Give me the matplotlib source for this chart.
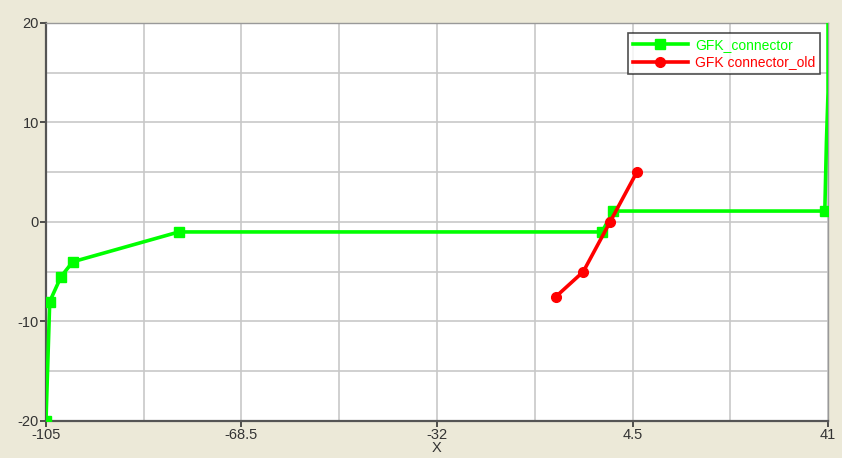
import matplotlib
matplotlib.use("Agg")
import matplotlib.pyplot as plt
import numpy as np

plt.rcParams['font.family'] = ['Liberation Sans', 'DejaVu Sans']
plt.rcParams['axes.unicode_minus'] = False

# GFK_connector profile
conn_x = [-105.0, -104.3, -102.2, -100.0, -80.2, -1.2, 0.9, 40.4, 40.7, 41.0, 41.0]
conn_y = [-20.0, -8.0, -5.5, -4.0, -1.0, -1.0, 1.1, 1.1, 8.0, 13.0, 20.0]

# GFK connector_old profile
old_x = [-9.8, -4.7, 0.3, 5.3]
old_y = [-7.5, -5.0, 0.0, 5.0]

x_ticks = [-105, -68.5, -32, 4.5, 41]
x_tick_labels = ["-105", "-68.5", "-32", "4.5", "41"]
y_ticks = [-20, -10, 0, 10, 20]

bg = "#ECE9D8"
fig = plt.figure(figsize=(8.42, 4.58), dpi=100, facecolor=bg)
ax = fig.add_axes([0.0546, 0.0808, 0.9288, 0.869])
ax.set_facecolor("white")

ax.plot(conn_x, conn_y, color="#00FF00", lw=2.6, marker="s", ms=6.5,
        markevery=list(range(8)), label="GFK_connector", zorder=3)
ax.plot(old_x, old_y, color="#FF0000", lw=2.6, marker="o", ms=7,
        label="GFK connector_old", zorder=4)

ax.set_xlim(-105, 41)
ax.set_ylim(-20, 20)
ax.set_xticks(x_ticks)
ax.set_xticklabels(x_tick_labels)
ax.set_yticks(y_ticks)
ax.set_xticks(np.arange(-105, 41.1, 18.25), minor=True)
ax.set_yticks(np.arange(-20, 20.1, 5), minor=True)
ax.grid(True, which="both", color="#C8C8C8", lw=1.2)
ax.set_axisbelow(True)

for side in ("left", "bottom"):
    ax.spines[side].set_color("#555555")
    ax.spines[side].set_linewidth(1.6)
for side in ("top", "right"):
    ax.spines[side].set_color("#999999")
    ax.spines[side].set_linewidth(1.0)

ax.tick_params(which="major", direction="out", length=4, width=1.2,
               color="#333333", labelsize=10.5, labelcolor="#333333", pad=1)
ax.tick_params(which="minor", length=0)
ax.set_xlabel("X", fontsize=10.5, color="#333333", labelpad=-1)

leg = ax.legend(loc="upper right", fontsize=10, frameon=True, fancybox=False,
                edgecolor="#222222", borderpad=0.35, handlelength=4.0,
                labelspacing=0.25, handletextpad=0.5,
                bbox_to_anchor=(0.999, 0.992))
leg.get_frame().set_linewidth(1.2)
for text, col in zip(leg.get_texts(), ["#00FF00", "#FF0000"]):
    text.set_color(col)

fig.savefig("out.png", dpi=100, facecolor=bg)
